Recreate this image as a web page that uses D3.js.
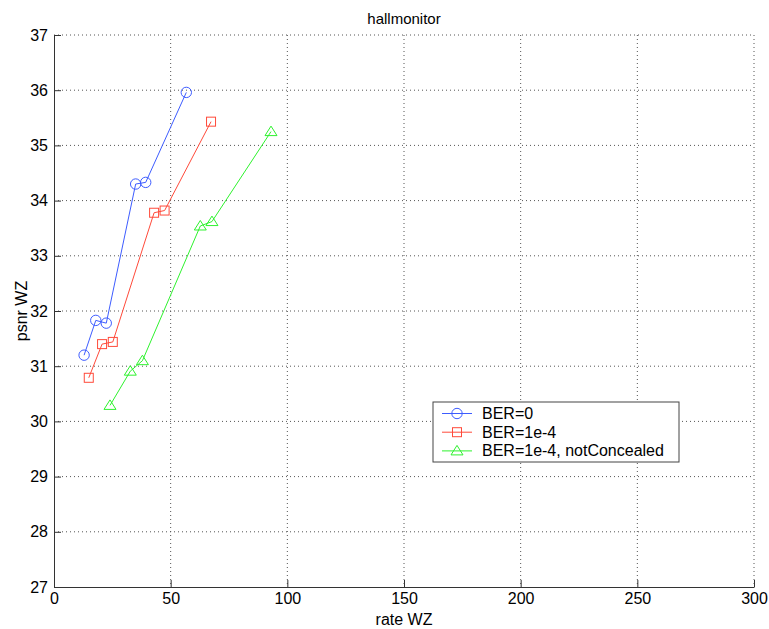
<!DOCTYPE html>
<html>
<head>
<meta charset="utf-8">
<script src="https://cdn.jsdelivr.net/npm/d3@7"></script>
<style>
  body { margin: 0; background: #fff; }
  text { font-family: "Liberation Sans", Arial, sans-serif; fill: #000; }
</style>
</head>
<body>
<div id="chart-area"></div>
<script>
// data
const rateBer0 = [12.9, 17.9, 22.4, 35.0, 39.3, 56.7];
const psnrBer0 = [31.20, 31.83, 31.78, 34.30, 34.33, 35.96];

const rateBer4 = [14.9, 20.6, 25.2, 42.9, 47.4, 67.3];
const psnrBer4 = [30.79, 31.40, 31.44, 33.78, 33.82, 35.43];

const rateNotConc = [24.0, 32.7, 37.9, 62.7, 67.7, 93.0];
const psnrNotConc = [30.29, 30.91, 31.10, 33.54, 33.62, 35.25];

const seriesNames = ["BER=0", "BER=1e-4", "BER=1e-4, notConcealed"];
const xTicks = [0, 50, 100, 150, 200, 250, 300];
const yTicks = [27, 28, 29, 30, 31, 32, 33, 34, 35, 36, 37];

const W = 769, H = 629;
const margin = { top: 35, right: 15, bottom: 42, left: 54 };
const width = W - margin.left - margin.right;
const height = H - margin.top - margin.bottom;

const series = [
  { name: seriesNames[0], x: rateBer0, y: psnrBer0, color: "#3d5cff", marker: "circle" },
  { name: seriesNames[1], x: rateBer4, y: psnrBer4, color: "#ff4a3a", marker: "square" },
  { name: seriesNames[2], x: rateNotConc, y: psnrNotConc, color: "#2ef22e", marker: "triangle" }
];

const svg = d3.select("#chart-area")
  .append("svg")
    .attr("width", W)
    .attr("height", H);

const chart = svg.append("g")
    .attr("transform", `translate(${margin.left},${margin.top})`);

const xScale = d3.scaleLinear().domain([0, 300]).range([0, width]);
const yScale = d3.scaleLinear().domain([27, 37]).range([height, 0]);

// grid
chart.append("g").selectAll("line")
  .data(xTicks.slice(1))
  .enter().append("line")
    .attr("x1", d => xScale(d)).attr("x2", d => xScale(d))
    .attr("y1", 0).attr("y2", height)
    .attr("stroke", "#555").attr("stroke-dasharray", "1,3");

chart.append("g").selectAll("line")
  .data(yTicks.slice(1))
  .enter().append("line")
    .attr("x1", 0).attr("x2", width)
    .attr("y1", d => yScale(d)).attr("y2", d => yScale(d))
    .attr("stroke", "#555").attr("stroke-dasharray", "1,3");

// axes, ticks pointing inward
const xAxis = chart.append("g")
    .attr("transform", `translate(0,${height})`)
    .call(d3.axisBottom(xScale).tickValues(xTicks).tickSizeInner(-7).tickSizeOuter(0).tickPadding(6));

const yAxis = chart.append("g")
    .call(d3.axisLeft(yScale).tickValues(yTicks).tickSizeInner(-7).tickSizeOuter(0).tickPadding(6));

[xAxis, yAxis].forEach(a => {
  a.select(".domain").attr("stroke", "#333");
  a.selectAll(".tick line").attr("stroke", "#333");
  a.selectAll("text").style("font-size", "16px").attr("fill", "#000");
});

// labels
svg.append("text")
    .attr("x", margin.left + width / 2)
    .attr("y", 24)
    .attr("text-anchor", "middle")
    .style("font-size", "15px")
    .text("hallmonitor");

svg.append("text")
    .attr("x", margin.left + width / 2)
    .attr("y", 625)
    .attr("text-anchor", "middle")
    .style("font-size", "16px")
    .text("rate WZ");

svg.append("text")
    .attr("transform", "rotate(-90)")
    .attr("x", -(margin.top + height / 2))
    .attr("y", 27)
    .attr("text-anchor", "middle")
    .style("font-size", "16px")
    .text("psnr WZ");

function drawMarker(g, type, color) {
  if (type === "circle") {
    g.append("circle").attr("r", 5.2)
      .attr("fill", "none").attr("stroke", color);
  } else if (type === "square") {
    g.append("rect").attr("x", -4.5).attr("y", -4.5)
      .attr("width", 9).attr("height", 9)
      .attr("fill", "none").attr("stroke", color);
  } else {
    g.append("path").attr("d", "M0,-5.5L6,4L-6,4Z")
      .attr("fill", "none").attr("stroke", color);
  }
}

const line = d3.line()
  .x(d => xScale(d[0]))
  .y(d => yScale(d[1]));

series.forEach(s => {
  const pts = s.x.map((v, i) => [v, s.y[i]]);
  chart.append("path")
    .datum(pts)
    .attr("d", line)
    .attr("fill", "none")
    .attr("stroke", s.color)
    .attr("stroke-width", 1);
  pts.forEach(p => {
    const g = chart.append("g")
      .attr("transform", `translate(${xScale(p[0])},${yScale(p[1])})`);
    drawMarker(g, s.marker, s.color);
  });
});

// legend
const legend = svg.append("g").attr("transform", "translate(433,402)");
legend.append("rect")
    .attr("width", 246).attr("height", 60)
    .attr("fill", "#fff").attr("stroke", "#444");

series.forEach((s, i) => {
  const y = 11.5 + i * 18.7;
  legend.append("line")
    .attr("x1", 9).attr("x2", 39)
    .attr("y1", y).attr("y2", y)
    .attr("stroke", s.color);
  const g = legend.append("g").attr("transform", `translate(24,${y})`);
  drawMarker(g, s.marker, s.color);
  legend.append("text")
    .attr("x", 49).attr("y", y + 5.5)
    .style("font-size", "16px")
    .text(s.name);
});
</script>
</body>
</html>
